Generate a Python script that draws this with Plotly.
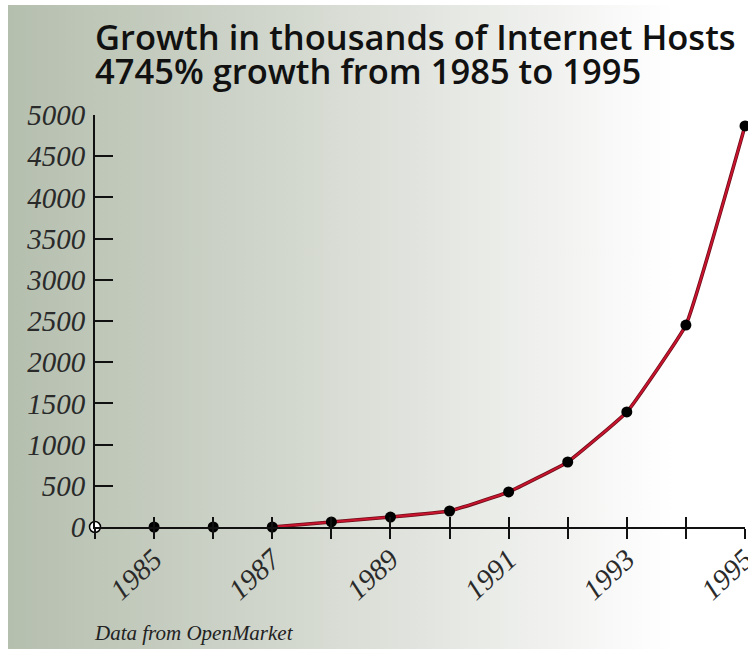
import base64
import plotly.graph_objects as go

# ---- data ----
years = [1984, 1985, 1986, 1987, 1988, 1989, 1990, 1991, 1992, 1993, 1994, 1995]
hosts = [0, 0, 0, 0, 61, 121, 194, 425, 789, 1396, 2451, 4867]
line_start_year = 1987
y_ticks = [0, 500, 1000, 1500, 2000, 2500, 3000, 3500, 4000, 4500, 5000]
x_tick_labels = ["" if (y % 2 == 0 or y == 1984) else str(y) for y in years]
title_lines = ["Growth in thousands of Internet Hosts", "4745% growth from 1985 to 1995"]
source_note = "Data from OpenMarket"

W, H = 748, 649
L, R, T, B = 95, 3, 115, 122
PW, PH = W - L - R, H - T - B

# background gradient as an SVG image
svg = (
    '<svg xmlns="http://www.w3.org/2000/svg" width="740" height="644" preserveAspectRatio="none">'
    '<defs><linearGradient id="g" x1="0" y1="0" x2="1" y2="0">'
    '<stop offset="0" stop-color="#b5bfae"/>'
    '<stop offset="0.3" stop-color="#ccd2c7"/>'
    '<stop offset="0.55" stop-color="#e1e4de"/>'
    '<stop offset="0.75" stop-color="#f2f3f1"/>'
    '<stop offset="0.9" stop-color="#ffffff"/>'
    '</linearGradient></defs>'
    '<rect width="740" height="644" fill="url(#g)"/></svg>'
)
src = "data:image/svg+xml;base64," + base64.b64encode(svg.encode()).decode()

def px_x(p):
    return (p - L) / PW

def px_y(p):
    return (H - B - p) / PH

line_x = [x for x in years if x >= line_start_year]
line_y = [v for x, v in zip(years, hosts) if x >= line_start_year]

fig = go.Figure()
fig.add_trace(go.Scatter(
    x=line_x, y=line_y, mode="lines",
    line=dict(color="#6e0d18", width=3.6, shape="spline", smoothing=0.3),
    cliponaxis=False, hoverinfo="skip", showlegend=False,
))
fig.add_trace(go.Scatter(
    x=line_x, y=line_y, mode="lines",
    line=dict(color="#c8142e", width=2, shape="spline", smoothing=0.3),
    cliponaxis=False, hoverinfo="skip", showlegend=False,
))
fig.add_trace(go.Scatter(
    x=years[1:], y=hosts[1:], mode="markers", xaxis="x2",
    marker=dict(color="#000000", size=11),
    cliponaxis=False, showlegend=False,
))
fig.add_trace(go.Scatter(
    x=years[:1], y=hosts[:1], mode="markers",
    marker=dict(color="#ffffff", size=11, line=dict(color="#000000", width=1.5)),
    cliponaxis=False, showlegend=False,
))

y_font = dict(family="Liberation Serif", size=29, color="#2a2a2a", style="italic")
x_font = dict(family="Liberation Serif", size=29, color="#2a2a2a", style="italic")
title_font = dict(family="Open Sans", size=34.5, color="#111111", weight=600)

fig.update_layout(
    width=W, height=H,
    margin=dict(l=L, r=R, t=T, b=B),
    paper_bgcolor="#ffffff",
    plot_bgcolor="rgba(0,0,0,0)",
    images=[dict(source=src, xref="paper", yref="paper",
                 x=px_x(8), y=px_y(5), sizex=740 / PW, sizey=644 / PH,
                 sizing="stretch", xanchor="left", yanchor="top", layer="below")],
    xaxis=dict(
        range=[1984, 1995], tickvals=years, ticktext=x_tick_labels,
        tickangle=-43, ticks="outside", ticklen=10, tickwidth=2, tickcolor="#111",
        showline=True, linewidth=2, linecolor="#111",
        showgrid=False, zeroline=False, tickfont=x_font,
        ticklabelstandoff=-8, ticklabeloverflow="allow", automargin=False,
    ),
    xaxis2=dict(
        range=[1984, 1995], overlaying="x", anchor="y", side="bottom",
        tickvals=years, ticks="inside", ticklen=10, tickwidth=2, tickcolor="#111",
        showticklabels=False, showline=False, showgrid=False, zeroline=False,
        automargin=False,
    ),
    yaxis=dict(
        range=[0, 5000], tickvals=y_ticks,
        ticks="inside", ticklen=18, tickwidth=2, tickcolor="#111",
        showline=True, linewidth=2, linecolor="#111",
        showgrid=False, zeroline=False, tickfont=y_font,
        ticklabelstandoff=2, automargin=False,
    ),
    annotations=[
        dict(text=title_lines[0], xref="paper", yref="paper",
             x=px_x(94), y=px_y(61), xanchor="left", yanchor="bottom",
             borderpad=0, showarrow=False, font=title_font),
        dict(text=title_lines[1], xref="paper", yref="paper",
             x=px_x(94), y=px_y(95), xanchor="left", yanchor="bottom",
             borderpad=0, showarrow=False, font=title_font),
        dict(text=source_note, xref="paper", yref="paper",
             x=px_x(92), y=px_y(633), xanchor="left", yanchor="middle",
             showarrow=False,
             font=dict(family="Liberation Serif", size=21, color="#222", style="italic")),
    ],
)

fig.write_html("out.html")
